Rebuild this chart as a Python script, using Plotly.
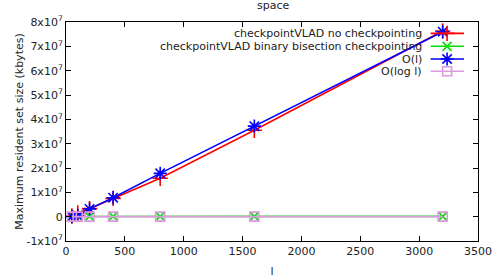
import plotly.graph_objects as go

l_vals = [50, 100, 200, 400, 800, 1600, 3200]
no_ckpt = [300000, 1500000, 3300000, 7500000, 15800000, 35500000, 76300000]
bisect = [80000, 90000, 100000, 110000, 120000, 130000, 140000]
o_l = [0, 500000, 3200000, 7800000, 17800000, 37200000, 76000000]
o_logl = [0, 0, 0, 0, 0, 0, 0]

names = ["checkpointVLAD no checkpointing", "checkpointVLAD binary bisection checkpointing", "O(l)", "O(log l)"]
series = [no_ckpt, bisect, o_l, o_logl]
colors = ["#ff0000", "#00e000", "#0000ff", "#dd99dd"]
symbols = ["cross-thin-open", "x-thin-open", "asterisk-open", "square-open"]
sizes = [11, 9, 11, 9]

y_ticks = [-1e7, 0, 1e7, 2e7, 3e7, 4e7, 5e7, 6e7, 7e7, 8e7]
y_ticktext = ["-1x10<sup>7</sup>", "0", "1x10<sup>7</sup>", "2x10<sup>7</sup>", "3x10<sup>7</sup>",
              "4x10<sup>7</sup>", "5x10<sup>7</sup>", "6x10<sup>7</sup>", "7x10<sup>7</sup>", "8x10<sup>7</sup>"]
x_ticks = [0, 500, 1000, 1500, 2000, 2500, 3000, 3500]

FONT = "DejaVu Sans"
FS = 11
TXT = "#222222"
fig = go.Figure()

for i in range(4):
    fig.add_trace(go.Scatter(
        x=l_vals, y=series[i], mode="lines+markers", name=names[i],
        line=dict(color=colors[i], width=1.6),
        marker=dict(symbol=symbols[i], size=sizes[i], color=colors[i],
                    line=dict(color=colors[i], width=1.6)),
        showlegend=False, xaxis="x", yaxis="y"))

# legend (gnuplot style: text right-aligned, sample on the right), plot-fraction coords
row_y = [0.948, 0.889, 0.831, 0.775]
for i in range(4):
    fig.add_trace(go.Scatter(
        x=[0.885, 0.966], y=[row_y[i], row_y[i]], mode="lines",
        line=dict(color=colors[i], width=1.6), showlegend=False,
        hoverinfo="skip", xaxis="x2", yaxis="y2"))
    fig.add_trace(go.Scatter(
        x=[0.925], y=[row_y[i]], mode="markers",
        marker=dict(symbol=symbols[i], size=sizes[i], color=colors[i],
                    line=dict(color=colors[i], width=1.6)),
        showlegend=False, hoverinfo="skip", xaxis="x2", yaxis="y2"))
    fig.add_annotation(x=0.868, y=row_y[i], xref="x2", yref="y2", text=names[i],
                       showarrow=False, xanchor="right", yanchor="middle",
                       font=dict(family=FONT, size=FS, color=TXT))

fig.update_layout(
    width=494, height=278,
    margin=dict(l=66, r=16, t=22, b=37, autoexpand=False),
    paper_bgcolor="white", plot_bgcolor="white",
    font=dict(family=FONT, size=FS, color=TXT),
    title=dict(text="space", x=0.553, xanchor="center", y=1.0, yanchor="top",
               pad=dict(t=1), font=dict(family=FONT, size=FS, color=TXT)),
    xaxis=dict(range=[0, 3500], tickvals=x_ticks, ticks="inside", ticklen=5,
               tickcolor="black", showline=True, linecolor="black", linewidth=1,
               mirror="allticks", showgrid=False, zeroline=False, automargin=False,
               tickfont=dict(family=FONT, size=FS, color=TXT),
               title=dict(text="l", standoff=13, font=dict(family=FONT, size=FS, color=TXT))),
    yaxis=dict(range=[-1e7, 8e7], tickvals=y_ticks, ticktext=y_ticktext,
               ticks="inside", ticklen=5, tickcolor="black", showline=True,
               linecolor="black", linewidth=1, mirror="allticks", showgrid=False,
               zeroline=False, automargin=False,
               tickfont=dict(family=FONT, size=FS, color=TXT),
               title=dict(text="Maximum resident set size (kbytes)", standoff=0,
                          font=dict(family=FONT, size=FS, color=TXT))),
    xaxis2=dict(range=[0, 1], overlaying="x", visible=False, fixedrange=True),
    yaxis2=dict(range=[0, 1], overlaying="y", visible=False, fixedrange=True),
)

fig.write_html("out.html", config={"displayModeBar": False},
               post_script="document.body.style.margin='0';document.body.style.overflow='hidden';")
